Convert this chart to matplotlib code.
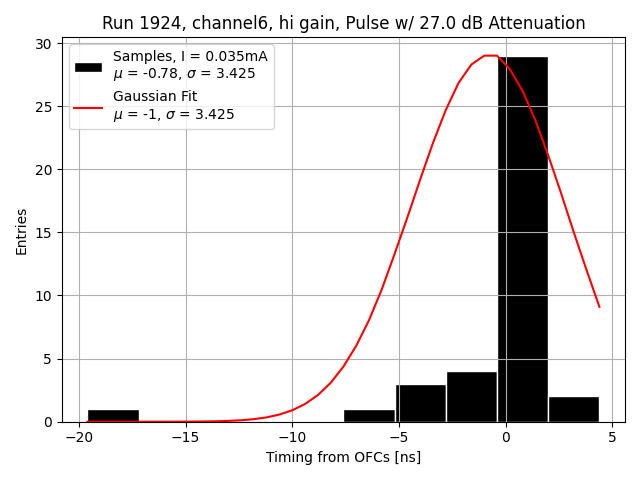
import matplotlib
matplotlib.use('Agg')
import matplotlib.pyplot as plt

# Histogram of timing samples
bin_edges = [-19.6, -17.2, -14.8, -12.4, -10.0, -7.6, -5.2, -2.8, -0.4, 2.0, 4.4]
counts = [1, 0, 0, 0, 0, 1, 3, 4, 29, 2]

# Gaussian fit curve
fit_x = [-19.6, -19.0, -18.4, -17.8, -17.2, -16.6, -16.0, -15.4, -14.8, -14.2,
         -13.6, -13.0, -12.4, -11.8, -11.2, -10.6, -10.0, -9.4, -8.8, -8.2,
         -7.6, -7.0, -6.4, -5.8, -5.2, -4.6, -4.0, -3.4, -2.8, -2.2,
         -1.6, -1.0, -0.4, 0.2, 0.8, 1.4, 2.0, 2.6, 3.2, 3.8, 4.4]
fit_y = [0.0, 0.0, 0.0, 0.0, 0.0, 0.001, 0.002, 0.004, 0.009, 0.019,
         0.035, 0.065, 0.117, 0.204, 0.346, 0.568, 0.907, 1.405, 2.11, 3.08,
         4.37, 6.02, 8.05, 10.5, 13.3, 16.2, 19.2, 22.1, 24.7, 26.85,
         28.3, 29.0, 29.0, 27.93, 26.2, 23.87, 21.1, 18.12, 15.0, 12.0, 9.1]

fig = plt.figure(figsize=(6.4, 4.8), dpi=100)
ax = fig.add_subplot(1, 1, 1)

widths = [bin_edges[i + 1] - bin_edges[i] for i in range(len(counts))]
bars = ax.bar(bin_edges[:-1], counts, width=widths, align='edge', color='black',
              edgecolor='white', linewidth=1,
              label='Samples, I = 0.035mA\n$\\mu$ = -0.78, $\\sigma$ = 3.425')
line, = ax.plot(fit_x, fit_y, color='red',
                label='Gaussian Fit\n$\\mu$ = -1, $\\sigma$ = 3.425')

ax.set_xlabel('Timing from OFCs [ns]')
ax.set_ylabel('Entries')
ax.set_title('Run 1924, channel6, hi gain, Pulse w/ 27.0 dB Attenuation')
ax.grid(True)
ax.legend(handles=[bars, line], loc='upper left')

plt.tight_layout()
plt.savefig('out.png')
plt.close()
